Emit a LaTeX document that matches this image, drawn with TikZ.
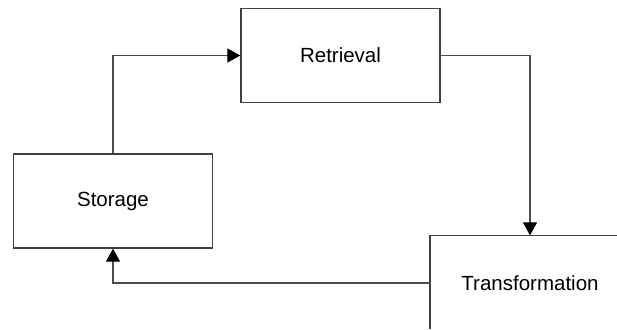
\documentclass[tikz,border=0pt]{standalone}
\usepackage{fontspec}
\setmainfont{Liberation Sans}
\usetikzlibrary{arrows.meta}
\begin{document}
\begin{tikzpicture}[x=1pt,y=-1pt,
  stagebox/.style={draw=black!75,line width=1.3pt,minimum width=199pt,minimum height=94pt,
    inner sep=0pt,font=\fontsize{20.5}{24}\selectfont},
  flow/.style={draw=black!70,line width=1.2pt,
    -{Triangle[length=13pt,width=14pt,color=black,fill=black]}}]
\fill[white] (0,0) rectangle (617,329);
\useasboundingbox (0,0) rectangle (617,329);
\node[stagebox] (storage) at (113,201) {Storage};
\node[stagebox] (retrieval) at (340.5,55.5) {Retrieval};
% the lower right box runs off the sheet: only its left and top edges show
\node[stagebox,draw=none] (transform) at (530,283) {Transformation};
\coordinate (sheetedge) at (617,0);
\draw[black!75,line width=1.3pt] (transform.west |- 0,329)
  -- (transform.north west) -- (transform.north -| sheetedge);
\draw[flow] (storage.north) |- (retrieval.west);
\draw[flow] (retrieval.east) -| (transform.north);
\draw[flow] (transform.west) -| (storage.south);
\end{tikzpicture}
\end{document}
